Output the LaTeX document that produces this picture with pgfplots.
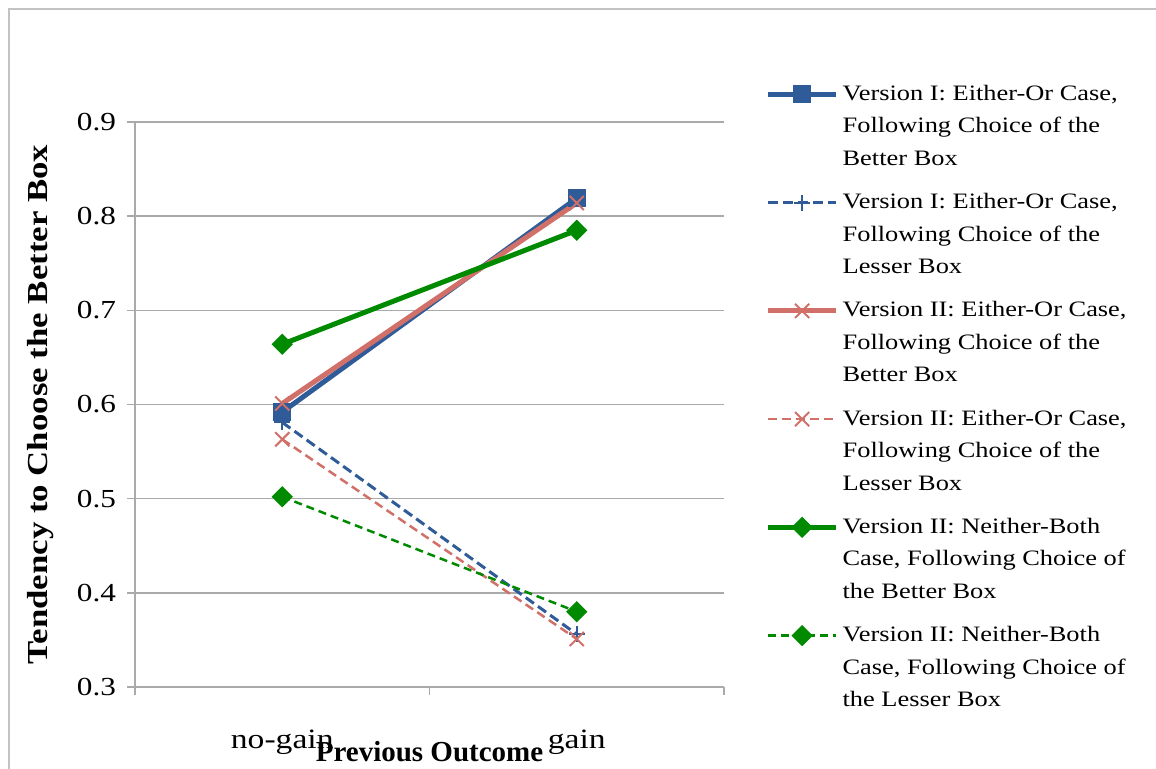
\documentclass[border=0pt]{standalone}
\usepackage{fontspec}
\setmainfont{Liberation Serif}[FakeStretch=1.2]
\newfontfamily\labelfont{Liberation Serif}
\usepackage{pgfplots}
\pgfplotsset{compat=1.18}

\definecolor{exblue}{RGB}{47,92,152}
\definecolor{exred}{RGB}{208,112,104}
\definecolor{exgreen}{RGB}{0,138,0}
\definecolor{gridgray}{RGB}{170,170,170}
\definecolor{framegray}{RGB}{195,195,195}

\begin{document}
\begin{tikzpicture}
  % 1 px of the reference = 0.5pt
  \useasboundingbox (0,0) rectangle (578pt,384.5pt);
  \draw[framegray, line width=1pt] (4.5pt,-5pt) -- (4.5pt,380pt) -- (590pt,380pt);
  \begin{axis}[
    at={(67.5pt,41pt)}, anchor=south west,
    scale only axis,
    width=294.5pt, height=282.5pt,
    xmin=0, xmax=2,
    ymin=0.3, ymax=0.9,
    ytick={0.3,0.4,...,0.9},
    xtick={0,1,2},
    xticklabels={},
    extra x ticks={0.5,1.5},
    extra x tick labels={no-gain,gain},
    extra x tick style={major tick length=0pt,
      tick label style={yshift=-18pt, font=\fontsize{14}{16}\selectfont}},
    axis x line*=bottom,
    axis y line*=left,
    axis line style={gridgray, line width=0.75pt},
    every tick/.style={gridgray, line width=0.75pt},
    major tick length=4pt,
    tick align=outside,
    ymajorgrids,
    grid style={gridgray, line width=0.75pt},
    tick label style={font=\fontsize{13}{15}\selectfont},
    yticklabel style={xshift=-2pt,
      /pgf/number format/.cd, fixed, fixed zerofill, precision=1},
    /pgf/number format/assume math mode=true,
    xlabel={Previous Outcome},
    ylabel={Tendency to Choose the Better Box},
    xlabel style={font=\labelfont\bfseries\fontsize{14.5}{16}\selectfont,
      at={(axis description cs:0.5,-0.114)}, anchor=center},
    ylabel style={font=\bfseries\fontsize{14.5}{16}\selectfont,
      at={(axis description cs:-0.16,0.5)}, anchor=center},
    clip=false,
    legend style={
      at={(axis description cs:1.07,1.073)}, anchor=north west,
      draw=none, inner sep=0pt,
      font=\fontsize{11}{16.25}\selectfont,
      row sep=8.5pt,
      cells={align=left},
    },
    legend cell align=left,
    legend image code/.code={
      \draw[mark repeat=2, mark phase=2, yshift=16.25pt, #1]
        plot coordinates {(0pt,0pt) (17pt,0pt) (34pt,0pt)};
    },
  ]
    \addplot[exblue, line width=2.5pt, mark=square*, mark size=4.25pt,
      mark options={solid, line width=0.5pt}]
      coordinates {(0.5,0.592) (1.5,0.819)};
    \addplot[exblue, line width=1.5pt, dash pattern=on 5pt off 2.5pt,
      mark=+, mark size=4pt, mark options={solid, line width=1pt}]
      coordinates {(0.5,0.581) (1.5,0.356)};
    \addplot[exred, line width=2.5pt, mark=x, mark size=5pt,
      mark options={solid, line width=1pt}]
      coordinates {(0.5,0.601) (1.5,0.814)};
    \addplot[exred, line width=1.25pt, dash pattern=on 4.5pt off 2.5pt,
      mark=x, mark size=5pt, mark options={solid, line width=1pt}]
      coordinates {(0.5,0.563) (1.5,0.351)};
    \addplot[exgreen, line width=2.5pt, mark=square*, mark size=3.5pt,
      mark options={solid, rotate=45, line width=0.5pt}]
      coordinates {(0.5,0.664) (1.5,0.785)};
    \addplot[exgreen, line width=1.25pt, dash pattern=on 4pt off 2.5pt,
      mark=square*, mark size=3.5pt,
      mark options={solid, rotate=45, line width=0.5pt}]
      coordinates {(0.5,0.502) (1.5,0.380)};
    \legend{
      {Version I: Either-Or Case,\\Following Choice of the\\Better Box},
      {Version I: Either-Or Case,\\Following Choice of the\\Lesser Box},
      {Version II: Either-Or Case,\\Following Choice of the\\Better Box},
      {Version II: Either-Or Case,\\Following Choice of the\\Lesser Box},
      {Version II: Neither-Both\\Case, Following Choice of\\the Better Box},
      {Version II: Neither-Both\\Case, Following Choice of\\the Lesser Box}
    }
  \end{axis}
\end{tikzpicture}
\end{document}
